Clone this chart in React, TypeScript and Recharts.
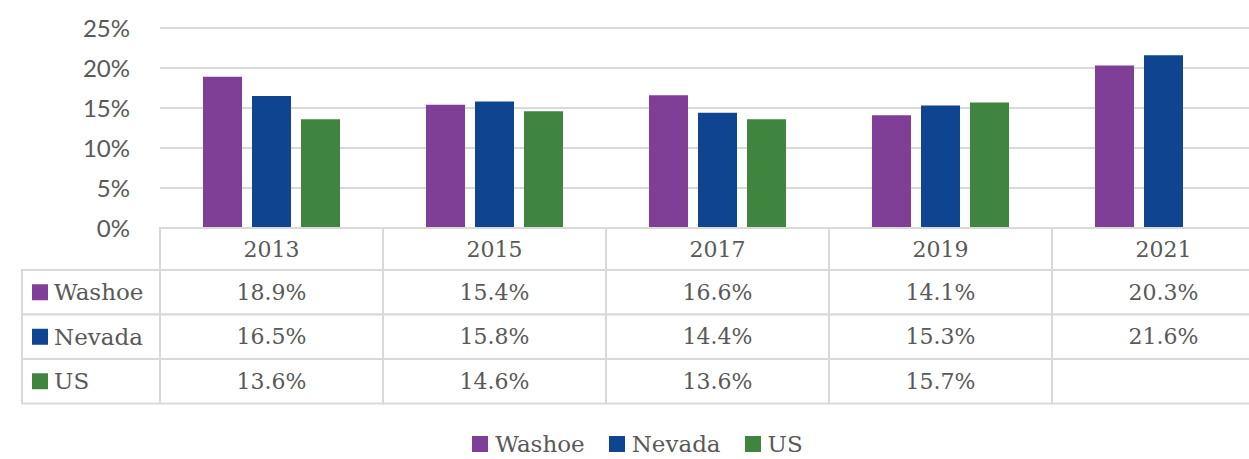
import { BarChart, Bar, XAxis, YAxis, CartesianGrid, Legend } from 'recharts';

const years = ['2013', '2015', '2017', '2019', '2021'];
const washoe = [18.9, 15.4, 16.6, 14.1, 20.3];
const nevada = [16.5, 15.8, 14.4, 15.3, 21.6];
const us: (number | null)[] = [13.6, 14.6, 13.6, 15.7, null];
const yTicks = [0, 5, 10, 15, 20, 25];

const series = [
  { key: 'washoe', name: 'Washoe', color: '#7f3f96', values: washoe },
  { key: 'nevada', name: 'Nevada', color: '#0e4490', values: nevada },
  { key: 'us', name: 'US', color: '#3f843f', values: us },
];

const data = years.map((year, i) => ({
  year,
  washoe: washoe[i],
  nevada: nevada[i],
  us: us[i],
}));

// layout
const CHART_W = 1290;
const CHART_H = 459;
const Y_AXIS_W = 160;
const M_TOP = 28;
const M_RIGHT = 15;
const PLOT_H = 200;
const COL_W = (CHART_W - Y_AXIS_W - M_RIGHT) / years.length;
const TABLE_TOP = M_TOP + PLOT_H;
const HEAD_H = 42;
const ROW_H = 44.5;
const LABEL_LEFT = 22;
const LEGEND_H = 36;

const GRID = '#d9d9d9';
const TEXT = '#595959';
const SERIF = '"DejaVu Serif", serif';
const FS = 22;

const fmt = (v: number | null) => (v == null ? '' : `${v.toFixed(1)}%`);

function TableTick(props: any) {
  const { x, index } = props;
  const left = x - COL_W / 2;
  const cells = [];
  cells.push(
    <g key="head">
      <rect x={left} y={TABLE_TOP} width={COL_W} height={HEAD_H} fill="#fff" stroke={GRID} strokeWidth={2} />
      <text x={x} y={TABLE_TOP + HEAD_H / 2} textAnchor="middle" dominantBaseline="central"
        fontFamily={SERIF} fontSize={FS} fill={TEXT}>{years[index]}</text>
    </g>,
  );
  series.forEach((s, r) => {
    const top = TABLE_TOP + HEAD_H + r * ROW_H;
    cells.push(
      <g key={s.key}>
        <rect x={left} y={top} width={COL_W} height={ROW_H} fill="#fff" stroke={GRID} strokeWidth={2} />
        <text x={x} y={top + ROW_H / 2} textAnchor="middle" dominantBaseline="central"
          fontFamily={SERIF} fontSize={FS} fill={TEXT}>{fmt(s.values[index])}</text>
      </g>,
    );
    if (index === 0) {
      cells.push(
        <g key={s.key + '-label'}>
          <rect x={LABEL_LEFT} y={top} width={left - LABEL_LEFT} height={ROW_H} fill="#fff" stroke={GRID} strokeWidth={2} />
          <rect x={LABEL_LEFT + 10} y={top + ROW_H / 2 - 8} width={16} height={16} fill={s.color} />
          <text x={LABEL_LEFT + 32} y={top + ROW_H / 2} dominantBaseline="central"
            fontFamily={SERIF} fontSize={FS + 1} fill={TEXT}>{s.name}</text>
        </g>,
      );
    }
  });
  return <g>{cells}</g>;
}

function LegendContent() {
  return (
    <div style={{ display: 'flex', justifyContent: 'center', alignItems: 'center', height: LEGEND_H, paddingTop: 6, boxSizing: 'border-box' }}>
      {series.map((s) => (
        <div key={s.key} style={{ display: 'flex', alignItems: 'center', margin: '0 12px' }}>
          <span style={{ width: 16, height: 16, background: s.color, display: 'inline-block', marginRight: 7 }} />
          <span style={{ fontFamily: SERIF, fontSize: FS + 1, color: TEXT }}>{s.name}</span>
        </div>
      ))}
    </div>
  );
}

export default function App() {
  return (
    <div style={{ position: 'absolute', left: 0, top: 0, width: 1249, height: 459, overflow: 'hidden', background: '#fff' }}>
      <BarChart width={CHART_W} height={CHART_H} data={data}
        margin={{ top: M_TOP, right: M_RIGHT, bottom: 0, left: 0 }}
        barSize={39} barGap={10}>
        <CartesianGrid vertical={false} stroke={GRID} strokeWidth={2} />
        <YAxis width={Y_AXIS_W} domain={[0, 25]} ticks={yTicks} axisLine={false} tickLine={false}
          tickSize={0} tickMargin={30} tickFormatter={(v) => `${v}%`}
          tick={{ fontFamily: 'Lato, sans-serif', fontSize: 24, fill: TEXT }} />
        <XAxis dataKey="year" height={CHART_H - TABLE_TOP - LEGEND_H} axisLine={false} tickLine={false}
          interval={0} tick={<TableTick />} />
        {series.map((s) => (
          <Bar key={s.key} dataKey={s.key} name={s.name} fill={s.color} isAnimationActive={false} />
        ))}
        <Legend verticalAlign="bottom" content={<LegendContent />} />
      </BarChart>
    </div>
  );
}
